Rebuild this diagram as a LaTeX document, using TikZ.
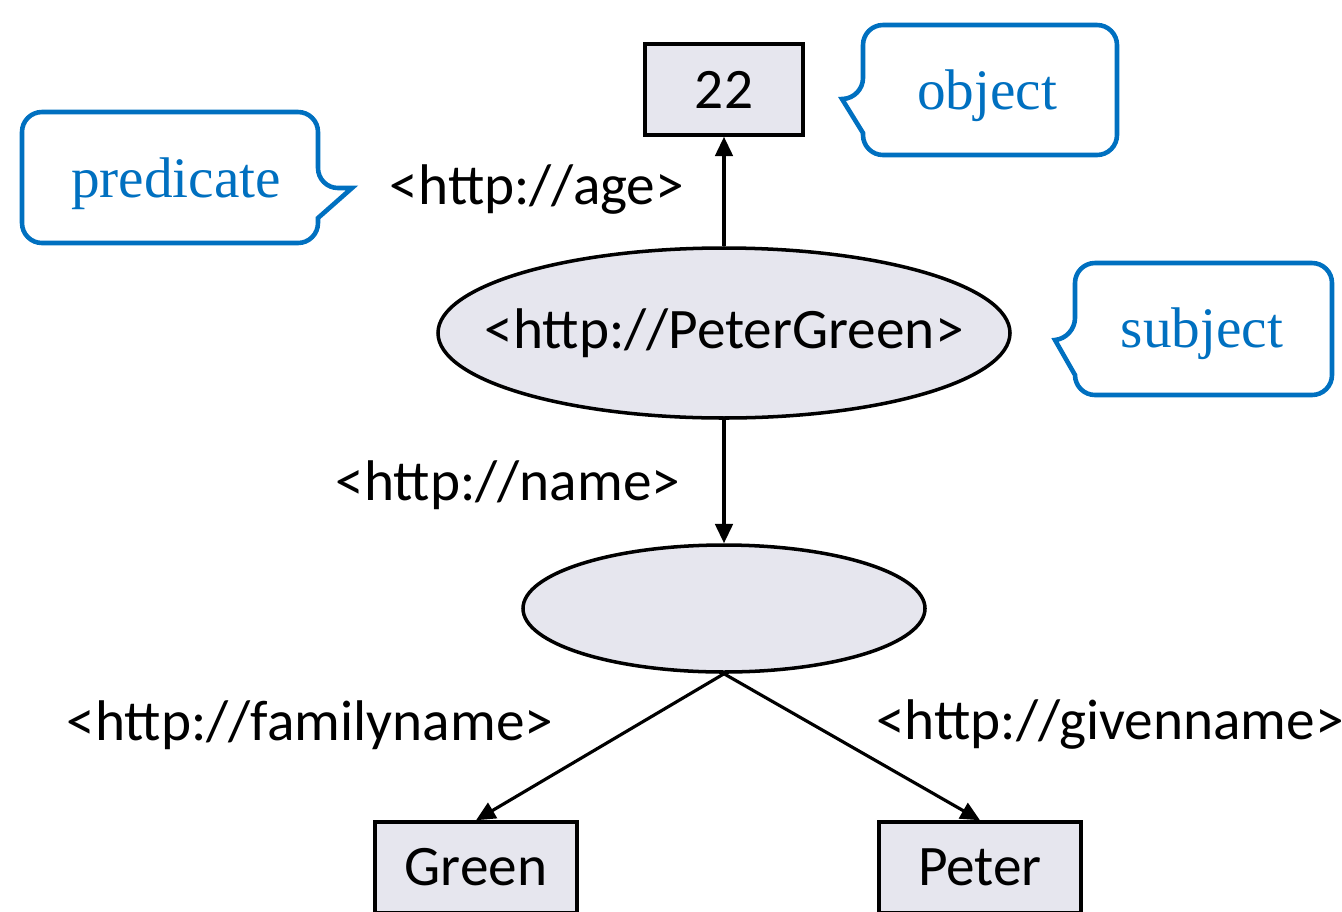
\documentclass[tikz,border=0pt]{standalone}
\usepackage{fontspec}
\setmainfont{Carlito}
\newfontfamily\calloutfont{Liberation Serif}
\usepackage{tikz}
\usetikzlibrary{arrows.meta,shapes.geometric}

\definecolor{nodefill}{RGB}{230,230,238}
\definecolor{calloutblue}{RGB}{0,112,192}

\begin{document}
\begin{tikzpicture}
	[
	align=center,
	font=\fontsize{16.3}{19}\selectfont,
	box/.style={draw, line width=1pt, fill=nodefill, minimum height=0.91cm, inner sep=0pt},
	blob/.style={draw, line width=1pt, fill=nodefill, ellipse, inner sep=0pt},
	edge/.style={line width=0.9pt, -{Triangle[length=5.5pt,width=5pt]}},
	predlabel/.style={},
	callout/.style={draw=calloutblue, line width=1.3pt, fill=white},
	callouttext/.style={text=calloutblue, font=\calloutfont\fontsize{16.3}{19}\selectfont},
	]
		\useasboundingbox (0,0) rectangle (13.42,-9.12);
		
		% resources
		\node[box, minimum width=1.58cm] (age) at 		( 7.24, -0.895) {22};
		\node[blob, inner xsep=-0.5cm, minimum width=5.72cm, minimum height=1.70cm] (pg) at 		( 7.24, -3.33 ) {<http://PeterGreen>};
		\node[blob, minimum width=4.02cm, minimum height=1.27cm] (bn) at 		( 7.24, -6.085) {};
		\node[box, minimum width=2.02cm] (green) at 		( 4.76, -8.675) {Green};
		\node[box, minimum width=2.02cm] (peter) at 		( 9.80, -8.675) {Peter};
		
		% predicates
		\node[predlabel] (lage) at 		( 5.37, -1.90 ) {<http://age>};
		\node[predlabel] (lname) at 		( 5.08, -4.85 ) {<http://name>};
		\node[predlabel] (lfam) at 		( 3.10, -7.25 ) {<http://familyname>};
		\node[predlabel] (lgiv) at 		(11.10, -7.25 ) {<http://givenname>};
		
		\draw[edge] (pg) -- (age);
		\draw[edge] (pg) -- (bn);
		\draw[edge] (bn.south) -- (green.north);
		\draw[edge] (bn.south) -- (peter.north);
		
		% callouts
		\draw[callout] (3.18,-1.88) -- (3.52,-1.88) -- (3.18,-2.18) [rounded corners=0.2cm] -- (3.18,-2.43) -- (0.22,-2.43) -- (0.22,-1.12) -- (3.18,-1.12) -- cycle;
		\node[callouttext] (cpred) at 		( 1.76, -1.84 ) {predicate};
		
		\draw[callout] (8.63,-0.98) -- (8.42,-0.99) -- (8.63,-1.33) [rounded corners=0.2cm] -- (8.63,-1.55) -- (11.17,-1.55) -- (11.17,-0.25) -- (8.63,-0.25) -- cycle;
		\node[callouttext] (cobj) at 		( 9.87, -0.96 ) {object};
		
		\draw[callout] (10.75,-3.38) -- (10.55,-3.40) -- (10.75,-3.75) [rounded corners=0.2cm] -- (10.75,-3.95) -- (13.32,-3.95) -- (13.32,-2.63) -- (10.75,-2.63) -- cycle;
		\node[callouttext] (csubj) at 		(12.02, -3.34 ) {subject};
		
	\end{tikzpicture}
\end{document}
